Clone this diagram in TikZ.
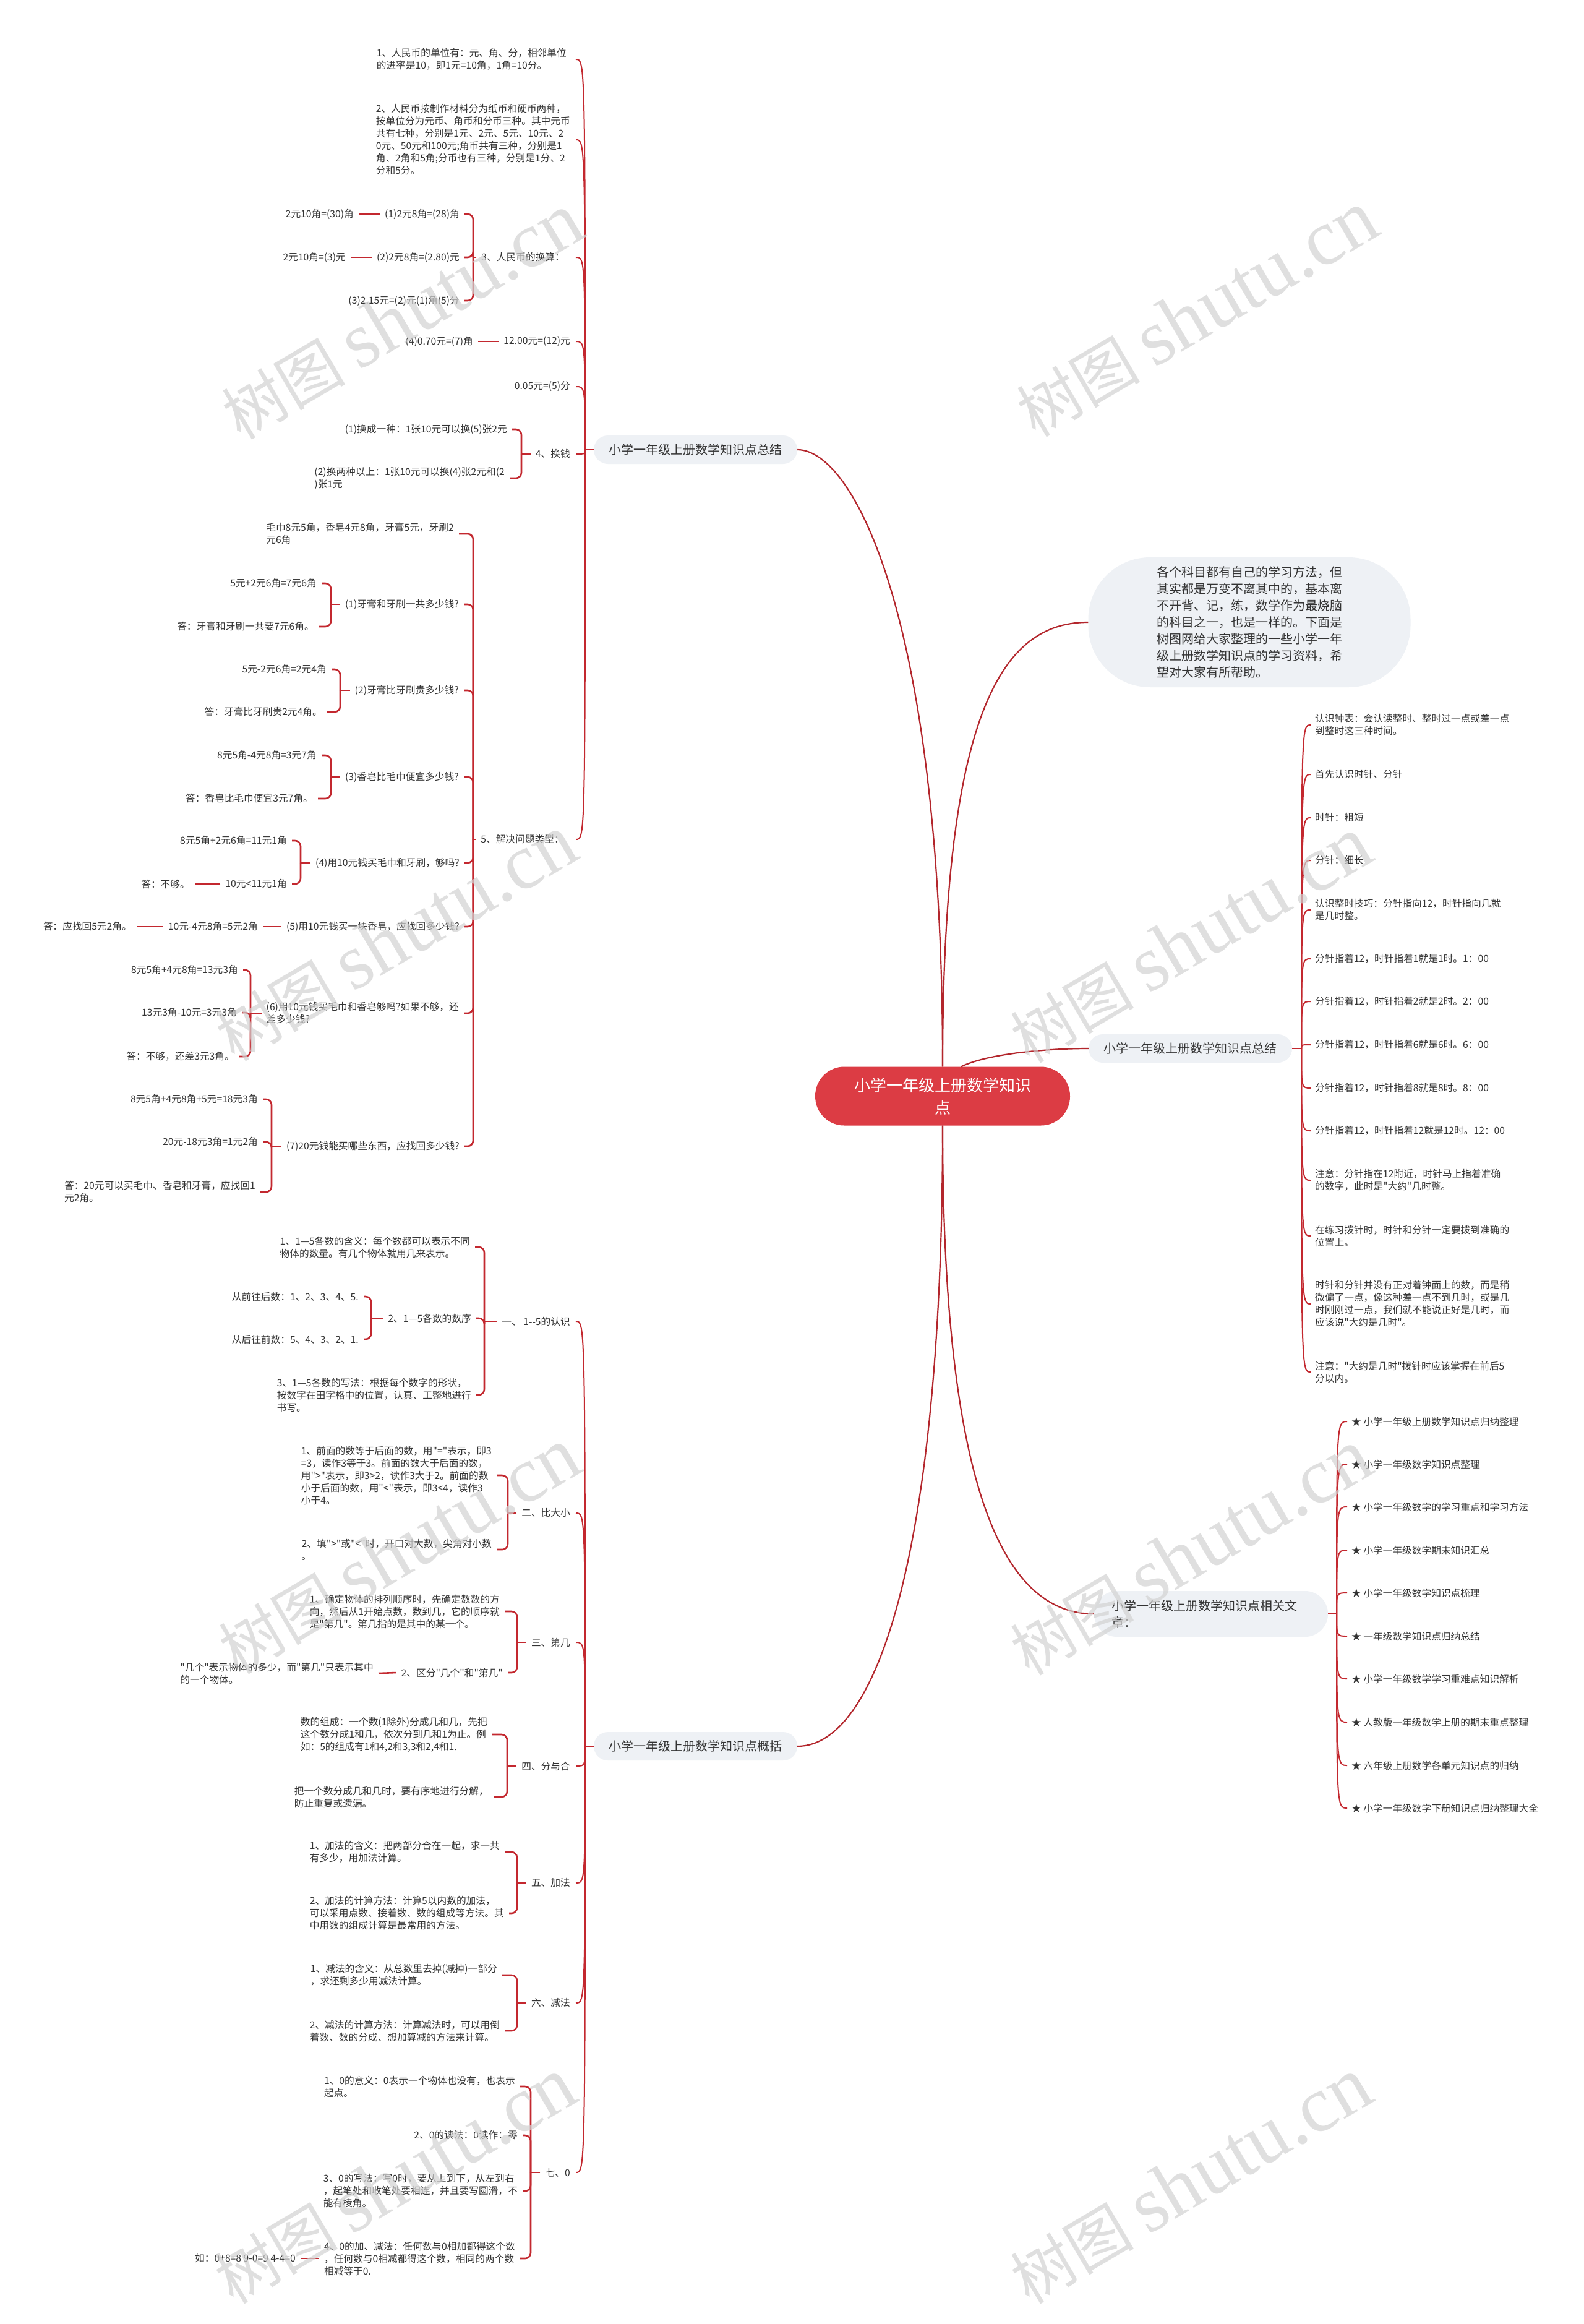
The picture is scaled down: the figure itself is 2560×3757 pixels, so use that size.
\documentclass[tikz,border=0pt]{standalone}
\usepackage{fontspec}
\setmainfont{Noto Sans CJK SC}[Ligatures=TeXOff]
\newfontfamily\wmlat{Liberation Serif}
\usetikzlibrary{calc}
\definecolor{linec}{HTML}{C3282F}
\definecolor{mainc}{HTML}{B3262C}
\definecolor{rootc}{HTML}{DC3C44}
\definecolor{boxc}{HTML}{EEF1F5}
\definecolor{txtc}{HTML}{333333}
\newcommand\mybrk[3]{%
  \draw[br] ([xshift=-8pt]#1.west) -- (#2,0 |- #1.west);
  \foreach \cc in {#3} \draw[br] (#2,0 |- #1.west) |- ([xshift=8pt]\cc.east);
}
\newcommand\mylink[2]{\draw[br] ([xshift=-8pt]#1.west) -- ([xshift=8pt]#2.east);}
\begin{document}
\begin{tikzpicture}[x=1pt,y=-1pt,
  txt/.style={font=\fontsize{15.7}{20}\selectfont, text=txtc, inner sep=0pt, align=left},
  lt/.style={txt, anchor=east},
  rt/.style={txt, anchor=west},
  br/.style={draw=linec, line width=2.6pt, rounded corners=9pt},
  fan/.style={draw=linec, line width=2pt},
  maincurve/.style={draw=mainc, line width=2.2pt},
  branch/.style={fill=boxc, rounded corners=23pt, minimum width=329pt, minimum height=46pt, inner sep=0pt, font=\fontsize{20}{27}\selectfont, text=txtc},
  wm/.style={text=gray!35, opacity=0.7, rotate=30.5, inner sep=0pt, font=\fontsize{100}{100}\selectfont}
]
\useasboundingbox (0,0) rectangle (2560,3757);
\fill[white] (0,0) rectangle (2560,3757);

% root and main branches
\node[fill=rootc, rounded corners=47pt, minimum width=412pt, minimum height=95pt, inner sep=0pt, text=white, align=center, font=\fontsize{26}{36}\selectfont] (root) at (1524,1772) {小学一年级上册数学知识\\点};
\node[branch] (A) at (1124.5,727) {小学一年级上册数学知识点总结};
\node[branch] (C) at (1124.5,2823) {小学一年级上册数学知识点概括};
\node[branch] (B) at (1924.5,1695) {小学一年级上册数学知识点总结};
\node[branch, rounded corners=37pt, minimum height=74pt, minimum width=0pt, text width=322pt, inner xsep=28pt, align=left] (D) at (1958,2609) {小学一年级上册数学知识点相关文\\章：};
\node[fill=boxc, rounded corners=100pt, minimum width=521pt, minimum height=210pt, inner sep=0pt, text=txtc, align=left, font=\fontsize{20}{27}\selectfont] (intro) at (2020,1006) {各个科目都有自己的学习方法，但\\其实都是万变不离其中的，基本离\\不开背、记，练，数学作为最烧脑\\的科目之一，也是一样的。下面是\\树图网给大家整理的一些小学一年\\级上册数学知识点的学习资料，希\\望对大家有所帮助。};

% group A
\node[lt] (a1) at (916,96) {1、人民币的单位有：元、角、分，相邻单位\\的进率是10，即1元=10角，1角=10分。};
\node[lt] (a2) at (922,226) {2、人民币按制作材料分为纸币和硬币两种，\\按单位分为元币、角币和分币三种。其中元币\\共有七种，分别是1元、2元、5元、10元、2\\0元、50元和100元;角币共有三种，分别是1\\角、2角和5角;分币也有三种，分别是1分、2\\分和5分。};
\node[lt] (a3) at (913,416) {3、人民币的换算：};
\node[lt] (a31) at (743,346) {(1)2元8角=(28)角};
\node[lt] (a311) at (572,346) {2元10角=(30)角};
\node[lt] (a32) at (743,416) {(2)2元8角=(2.80)元};
\node[lt] (a321) at (559,416) {2元10角=(3)元};
\node[lt] (a33) at (743,486) {(3)2.15元=(2)元(1)角(5)分};
\node[lt] (a4) at (922,552) {12.00元=(12)元};
\node[lt] (a41) at (765,552) {(4)0.70元=(7)角};
\node[lt] (a5) at (922,625) {0.05元=(5)分};
\node[lt] (a6) at (922,734) {4、换钱};
\node[lt] (a61) at (820,694) {(1)换成一种：1张10元可以换(5)张2元};
\node[lt] (a62) at (816,773) {(2)换两种以上：1张10元可以换(4)张2元和(2\\)张1元};
\node[lt] (a7) at (912,1357) {5、解决问题类型：};
\node[lt] (a71) at (734,863) {毛巾8元5角，香皂4元8角，牙膏5元，牙刷2\\元6角};
\node[lt] (a72) at (742,977) {(1)牙膏和牙刷一共多少钱?};
\node[lt] (a721) at (512,943) {5元+2元6角=7元6角};
\node[lt] (a722) at (508,1013) {答：牙膏和牙刷一共要7元6角。};
\node[lt] (a73) at (742,1116) {(2)牙膏比牙刷贵多少钱?};
\node[lt] (a731) at (528,1082) {5元-2元6角=2元4角};
\node[lt] (a732) at (521,1151) {答：牙膏比牙刷贵2元4角。};
\node[lt] (a74) at (742,1256) {(3)香皂比毛巾便宜多少钱?};
\node[lt] (a741) at (512,1221) {8元5角-4元8角=3元7角};
\node[lt] (a742) at (506,1291) {答：香皂比毛巾便宜3元7角。};
\node[lt] (a75) at (743,1395) {(4)用10元钱买毛巾和牙刷，够吗?};
\node[lt] (a751) at (464,1359) {8元5角+2元6角=11元1角};
\node[lt] (a752) at (464,1429) {10元<11元1角};
\node[lt] (a753) at (307,1429) {答：不够。};
\node[lt] (a76) at (743,1498) {(5)用10元钱买一块香皂，应找回多少钱?};
\node[lt] (a761) at (417,1498) {10元-4元8角=5元2角};
\node[lt] (a762) at (213,1498) {答：应找回5元2角。};
\node[lt] (a77) at (742,1638) {(6)用10元钱买毛巾和香皂够吗?如果不够，还\\差多少钱?};
\node[lt] (a771) at (385,1568) {8元5角+4元8角=13元3角};
\node[lt] (a772) at (383,1637) {13元3角-10元=3元3角};
\node[lt] (a773) at (379,1708) {答：不够，还差3元3角。};
\node[lt] (a78) at (743,1853) {(7)20元钱能买哪些东西，应找回多少钱?};
\node[lt] (a781) at (417,1777) {8元5角+4元8角+5元=18元3角};
\node[lt] (a782) at (417,1846) {20元-18元3角=1元2角};
\node[lt] (a783) at (413,1927) {答：20元可以买毛巾、香皂和牙膏，应找回1\\元2角。};

% group C
\node[lt] (c1) at (922,2136) {一、 1--5的认识};
\node[lt] (c11) at (760,2016) {1、1—5各数的含义：每个数都可以表示不同\\物体的数量。有几个物体就用几来表示。};
\node[lt] (c12) at (762,2131) {2、1—5各数的数序};
\node[lt] (c121) at (580,2096) {从前往后数：1、2、3、4、5.};
\node[lt] (c122) at (580,2165) {从后往前数：5、4、3、2、1.};
\node[lt] (c13) at (762,2255) {3、1—5各数的写法：根据每个数字的形状，\\按数字在田字格中的位置，认真、工整地进行\\书写。};
\node[lt] (c2) at (922,2446) {二、比大小};
\node[lt] (c21) at (795,2385) {1、前面的数等于后面的数，用"="表示，即3\\=3，读作3等于3。前面的数大于后面的数，\\用">"表示，即3>2，读作3大于2。前面的数\\小于后面的数，用"<"表示，即3<4，读作3\\小于4。};
\node[lt] (c22) at (795,2505) {2、填">"或"<"时，开口对大数，尖角对小数\\。};
\node[lt] (c3) at (922,2655) {三、第几};
\node[lt] (c31) at (808,2605) {1、确定物体的排列顺序时，先确定数数的方\\向，然后从1开始点数，数到几，它的顺序就\\是"第几"。第几指的是其中的某一个。};
\node[lt] (c32) at (813,2704) {2、区分"几个"和"第几"};
\node[lt] (c321) at (604,2705) {"几个"表示物体的多少，而"第几"只表示其中\\的一个物体。};
\node[lt] (c4) at (922,2855) {四、分与合};
\node[lt] (c41) at (788,2804) {数的组成：一个数(1除外)分成几和几，先把\\这个数分成1和几，依次分到几和1为止。例\\如：5的组成有1和4,2和3,3和2,4和1.};
\node[lt] (c42) at (790,2905) {把一个数分成几和几时，要有序地进行分解，\\防止重复或遗漏。};
\node[lt] (c5) at (922,3044) {五、加法};
\node[lt] (c51) at (808,2994) {1、加法的含义：把两部分合在一起，求一共\\有多少，用加法计算。};
\node[lt] (c52) at (815,3093) {2、加法的计算方法：计算5以内数的加法，\\可以采用点数、接着数、数的组成等方法。其\\中用数的组成计算是最常用的方法。};
\node[lt] (c6) at (922,3238) {六、减法};
\node[lt] (c61) at (804,3193) {1、减法的含义：从总数里去掉(减掉)一部分\\，求还剩多少用减法计算。};
\node[lt] (c62) at (808,3283) {2、减法的计算方法：计算减法时，可以用倒\\着数、数的分成、想加算减的方法来计算。};
\node[lt] (c7) at (922,3512) {七、0};
\node[lt] (c71) at (833,3373) {1、0的意义：0表示一个物体也没有，也表示\\起点。};
\node[lt] (c72) at (837,3452) {2、0的读法：0读作：零};
\node[lt] (c73) at (837,3542) {3、0的写法：写0时，要从上到下，从左到右\\，起笔处和收笔处要相连，并且要写圆滑，不\\能有棱角。};
\node[lt] (c74) at (833,3651) {4、0的加、减法：任何数与0相加都得这个数\\，任何数与0相减都得这个数，相同的两个数\\相减等于0.};
\node[lt] (c741) at (478,3651) {如：0+8=8 9-0=9 4-4=0};

% group B
\node[rt] (b1) at (2126,1172) {认识钟表：会认读整时、整时过一点或差一点\\到整时这三种时间。};
\node[rt] (b2) at (2126,1252) {首先认识时针、分针};
\node[rt] (b3) at (2126,1322) {时针：粗短};
\node[rt] (b4) at (2126,1391) {分针：细长};
\node[rt] (b5) at (2126,1471) {认识整时技巧：分针指向12，时针指向几就\\是几时整。};
\node[rt] (b6) at (2126,1550) {分针指着12，时针指着1就是1时。1：00};
\node[rt] (b7) at (2126,1619) {分针指着12，时针指着2就是2时。2：00};
\node[rt] (b8) at (2126,1689) {分针指着12，时针指着6就是6时。6：00};
\node[rt] (b9) at (2126,1759) {分针指着12，时针指着8就是8时。8：00};
\node[rt] (b10) at (2126,1828) {分针指着12，时针指着12就是12时。12：00};
\node[rt] (b11) at (2126,1908) {注意：分针指在12附近，时针马上指着准确\\的数字，此时是"大约"几时整。};
\node[rt] (b12) at (2126,1998) {在练习拨针时，时针和分针一定要拨到准确的\\位置上。};
\node[rt] (b13) at (2126,2108) {时针和分针并没有正对着钟面上的数，而是稍\\微偏了一点，像这种差一点不到几时，或是几\\时刚刚过一点，我们就不能说正好是几时，而\\应该说"大约是几时"。};
\node[rt] (b14) at (2126,2218) {注意："大约是几时"拨针时应该掌握在前后5\\分以内。};

% group D
\node[rt] (d1) at (2185,2298) {★ 小学一年级上册数学知识点归纳整理};
\node[rt] (d2) at (2185,2367) {★ 小学一年级数学知识点整理};
\node[rt] (d3) at (2185,2436) {★ 小学一年级数学的学习重点和学习方法};
\node[rt] (d4) at (2185,2506) {★ 小学一年级数学期末知识汇总};
\node[rt] (d5) at (2185,2575) {★ 小学一年级数学知识点梳理};
\node[rt] (d6) at (2185,2645) {★ 一年级数学知识点归纳总结};
\node[rt] (d7) at (2185,2714) {★ 小学一年级数学学习重难点知识解析};
\node[rt] (d8) at (2185,2784) {★ 人教版一年级数学上册的期末重点整理};
\node[rt] (d9) at (2185,2854) {★ 六年级上册数学各单元知识点的归纳};
\node[rt] (d10) at (2185,2923) {★ 小学一年级数学下册知识点归纳整理大全};

% main curves
\draw[maincurve] (root.north) .. controls (1524,1000) and (1380,727) .. (A.east);
\draw[maincurve] (root.north) .. controls (1524,1150) and (1620,1006) .. (intro.west);
\draw[maincurve] ([xshift=30pt]root.north) .. controls (1600,1702) and (1700,1695) .. (B.west);
\draw[maincurve] (root.south) .. controls (1524,2400) and (1620,2609) .. (D.west);
\draw[maincurve] (root.south) .. controls (1524,2500) and (1420,2823) .. (C.east);

% fans
\draw[fan] (A.west) -- (946,727);
\foreach \c in {a1,a2,a3,a4,a5,a6,a7}
  \draw[fan] (946,727) .. controls (946,0 |- \c.east) and (946,0 |- \c.east) .. (931,0 |- \c.east);
\draw[fan] (C.west) -- (946,2823);
\foreach \c in {c1,c2,c3,c4,c5,c6,c7}
  \draw[fan] (946,2823) .. controls (946,0 |- \c.east) and (946,0 |- \c.east) .. (931,0 |- \c.east);
\draw[fan] (B.east) -- (2104,1695);
\foreach \i in {1,...,14}
  \draw[fan] (2104,1695) .. controls (2104,0 |- b\i.west) and (2104,0 |- b\i.west) .. (2119,0 |- b\i.west);
\draw[fan] (D.east) -- (2161,2609);
\foreach \i in {1,...,10}
  \draw[fan] (2161,2609) .. controls (2161,0 |- d\i.west) and (2161,0 |- d\i.west) .. (2178,0 |- d\i.west);

% brackets
\mybrk{a3}{765}{a31,a32,a33}
\mybrk{a6}{843}{a61,a62}
\mybrk{a7}{765}{a71,a72,a73,a74,a75,a76,a77,a78}
\mybrk{a72}{535}{a721,a722}
\mybrk{a73}{550}{a731,a732}
\mybrk{a74}{535}{a741,a742}
\mybrk{a75}{486}{a751,a752}
\mybrk{a77}{405}{a771,a772,a773}
\mybrk{a78}{439}{a781,a782,a783}
\mylink{a31}{a311}
\mylink{a32}{a321}
\mylink{a4}{a41}
\mylink{a752}{a753}
\mylink{a76}{a761}
\mylink{a761}{a762}
\mybrk{c1}{783}{c11,c12,c13}
\mybrk{c12}{600}{c121,c122}
\mybrk{c2}{821}{c21,c22}
\mybrk{c3}{836}{c31,c32}
\mybrk{c4}{820}{c41,c42}
\mybrk{c5}{836}{c51,c52}
\mybrk{c6}{836}{c61,c62}
\mybrk{c7}{858}{c71,c72,c73,c74}
\mylink{c32}{c321}
\mylink{c74}{c741}

% watermarks
\foreach \wx/\wy [count=\k] in {650/512, 1935/508, 640/1517, 1925/1520, 645/2508, 1925/2510, 638/3526, 1925/3526}
  \node[wm] (wm\k) at (\wx,\wy) {树图 {\wmlat\fontsize{128}{128}\selectfont shutu.cn}};
\end{tikzpicture}
\end{document}
